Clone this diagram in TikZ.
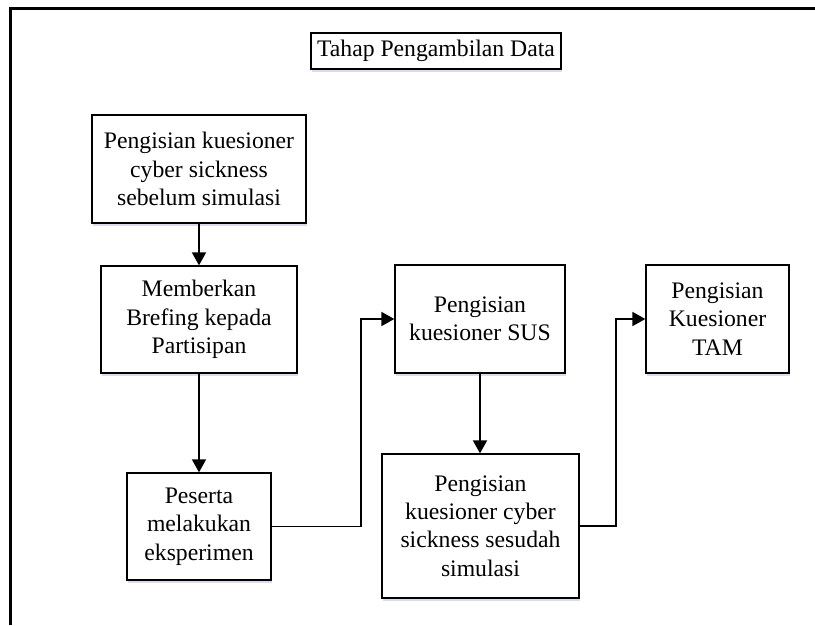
\documentclass[tikz,border=0pt]{standalone}
\usepackage{fontspec}
\setmainfont{Liberation Serif}
\usetikzlibrary{arrows.meta,shadows}
\begin{document}
\begin{tikzpicture}[x=1pt,y=-1pt,
  box/.style={draw,line width=1.3pt,fill=white,align=center,inner sep=0pt,
    font=\fontsize{23.7}{28.3}\selectfont,
    drop shadow={shadow xshift=1pt,shadow yshift=-3pt,fill=blue!40!gray,opacity=0.2}},
  conn/.style={line width=1.8pt,-{Triangle[length=13pt,width=14pt]}},
  frame/.style={line width=2.7pt,line join=miter}]
\useasboundingbox (0,0) rectangle (815,625);
\draw[frame] (10.5,625) -- (10.5,8.7) -- (815,8.7);
\node[box,minimum width=250pt,minimum height=36pt] (title) at (436,51) {Tahap Pengambilan Data};
\node[box,minimum width=214pt,minimum height=108pt] (b1) at (199,169) {Pengisian kuesioner\\cyber sickness\\sebelum simulasi};
\node[box,minimum width=196pt,minimum height=107pt] (b2) at (199,319.5) {Memberkan\\Brefing kepada\\Partisipan};
\node[box,minimum width=144pt,minimum height=107pt] (b3) at (199,526.5) {Peserta\\melakukan\\eksperimen};
\node[box,minimum width=170pt,minimum height=108pt] (b4) at (480,319) {Pengisian\\kuesioner SUS};
\node[box,minimum width=197pt,minimum height=144pt] (b5) at (480.5,526) {Pengisian\\kuesioner cyber\\sickness sesudah\\simulasi};
\node[box,minimum width=143pt,minimum height=108pt] (b6) at (717.5,319) {Pengisian\\Kuesioner\\TAM};
\draw[conn] (b1) -- (b2);
\draw[conn] (b2) -- (b3);
\draw[conn] (b3.east) -- ++(89,0) |- (b4.west);
\draw[conn] (b4.south) -- (b4.south |- b5.north);
\draw[conn] (b5.east) -- ++(36,0) |- (b6.west);
\end{tikzpicture}
\end{document}
